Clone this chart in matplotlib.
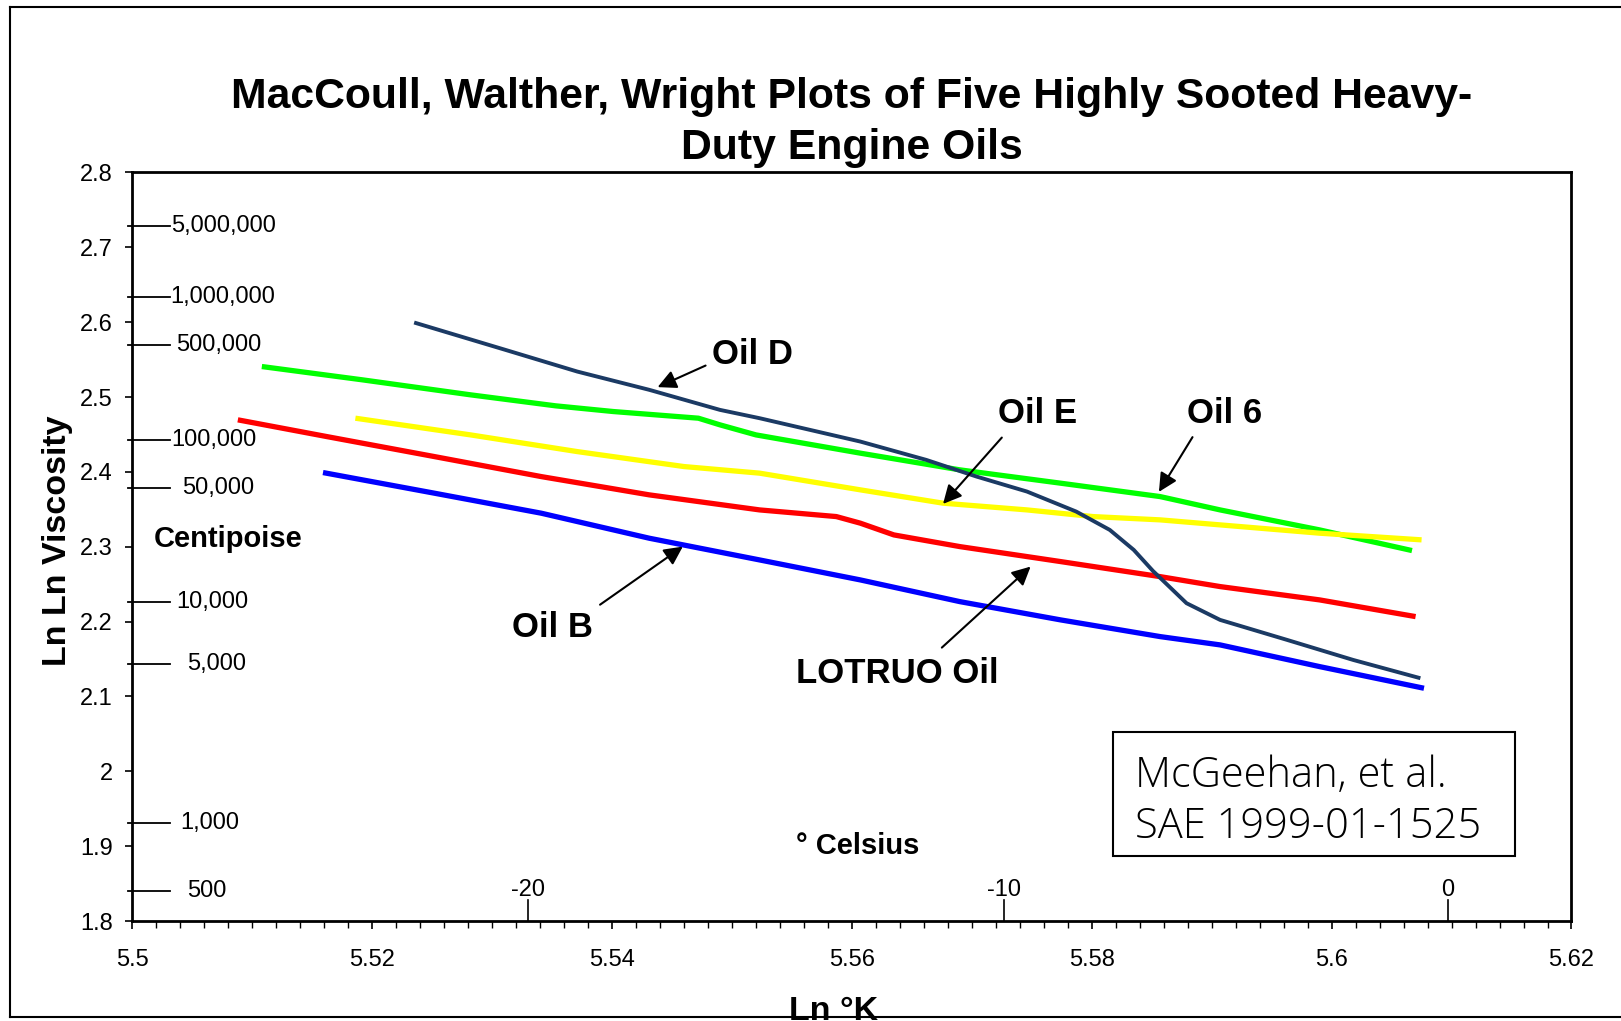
import numpy as np
import matplotlib
matplotlib.use('Agg')
import matplotlib.pyplot as plt
from matplotlib.lines import Line2D
from matplotlib.patches import Rectangle
from matplotlib.ticker import FixedLocator, MultipleLocator
import matplotlib.transforms as mtransforms

plt.rcParams['font.family'] = ['Liberation Sans', 'DejaVu Sans']

# Ln degK (x) and Ln Ln viscosity (y)
oilD_x = [5.5235, 5.5311, 5.5371, 5.5431, 5.5490, 5.5523, 5.5607, 5.5662, 5.5704, 5.5746,
          5.5787, 5.5815, 5.5835, 5.5851, 5.5879, 5.5907, 5.5963, 5.6018, 5.6074]
oilD_y = [2.5995, 2.5630, 2.5340, 2.5096, 2.4828, 2.4717, 2.4405, 2.4160, 2.3937, 2.3737,
          2.3470, 2.3225, 2.2958, 2.2677, 2.2246, 2.2023, 2.1755, 2.1488, 2.1244]

oil6_x = [5.5108, 5.5192, 5.5282, 5.5353, 5.5401, 5.5472, 5.5490, 5.5520, 5.5607, 5.5690,
          5.5774, 5.5857, 5.5907, 5.5990, 5.6067]
oil6_y = [2.5407, 2.5229, 2.5029, 2.4882, 2.4806, 2.4717, 2.4628, 2.4494, 2.4250, 2.4027,
          2.3849, 2.3670, 2.3492, 2.3225, 2.2949]

oilE_x = [5.5186, 5.5282, 5.5371, 5.5460, 5.5523, 5.5607, 5.5676, 5.5746, 5.5801, 5.5857,
          5.5907, 5.5990, 5.6075]
oilE_y = [2.4717, 2.4494, 2.4271, 2.4071, 2.3983, 2.3760, 2.3582, 2.3492, 2.3403, 2.3359,
          2.3292, 2.3181, 2.3092]

lotruo_x = [5.5088, 5.5162, 5.5252, 5.5341, 5.5431, 5.5523, 5.5587, 5.5607, 5.5635, 5.5690,
            5.5774, 5.5857, 5.5907, 5.5990, 5.6070]
lotruo_y = [2.4695, 2.4472, 2.4204, 2.3937, 2.3693, 2.3492, 2.3403, 2.3315, 2.3158, 2.3002,
            2.2802, 2.2601, 2.2468, 2.2290, 2.2067]

oilB_x = [5.5159, 5.5252, 5.5341, 5.5431, 5.5523, 5.5607, 5.5690, 5.5774, 5.5857, 5.5907,
          5.5990, 5.6077]
oilB_y = [2.3991, 2.3715, 2.3448, 2.3114, 2.2824, 2.2557, 2.2267, 2.2023, 2.1800, 2.1689,
          2.1399, 2.1110]

# centipoise scale drawn inside the left axis
cp_labels = ['5,000,000', '1,000,000', '500,000', '100,000', '50,000', '10,000', '5,000', '1,000', '500']
cp_y = [2.7287, 2.6342, 2.5697, 2.4428, 2.3782, 2.2267, 2.1431, 1.9307, 1.8406]
cp_label_x = [0.0267, 0.0267, 0.0302, 0.0274, 0.0343, 0.0304, 0.0384, 0.0331, 0.0384]

# Celsius marks on the bottom axis (position in Ln degK as drawn)
celsius = ['-20', '-10', '0']
celsius_x = [5.5330, 5.5727, 5.6097]

xticks = [5.5, 5.52, 5.54, 5.56, 5.58, 5.6, 5.62]
xlabels = ['5.5', '5.52', '5.54', '5.56', '5.58', '5.6', '5.62']
yticks = [1.8, 1.9, 2.0, 2.1, 2.2, 2.3, 2.4, 2.5, 2.6, 2.7, 2.8]
ylabels = ['1.8', '1.9', '2', '2.1', '2.2', '2.3', '2.4', '2.5', '2.6', '2.7', '2.8']

fig = plt.figure(figsize=(16.21, 10.21), dpi=100)
ax = fig.add_axes([0.08162, 0.09785, 0.88784, 0.7333])

ax.plot(oil6_x, oil6_y, color='#00ff00', lw=3.8, solid_capstyle='butt')
ax.plot(oilE_x, oilE_y, color='#ffff00', lw=3.8, solid_capstyle='butt')
ax.plot(lotruo_x, lotruo_y, color='#ff0000', lw=3.8, solid_capstyle='butt')
ax.plot(oilB_x, oilB_y, color='#0000ff', lw=3.8, solid_capstyle='butt')
ax.plot(oilD_x, oilD_y, color='#1b3a64', lw=2.8, solid_capstyle='butt')

ax.set_xlim(5.5, 5.62)
ax.set_ylim(1.8, 2.8)
ax.xaxis.set_major_locator(FixedLocator(xticks))
ax.set_xticklabels(xlabels)
ax.xaxis.set_minor_locator(MultipleLocator(0.002))
ax.yaxis.set_major_locator(FixedLocator(yticks))
ax.set_yticklabels(ylabels)
ax.tick_params(axis='x', which='major', direction='out', length=6, width=1.2, pad=14, labelsize=17)
ax.tick_params(axis='x', which='minor', direction='out', length=5, width=1.0)
ax.tick_params(axis='y', which='major', direction='out', length=5, width=1.2, pad=9, labelsize=17)
for s in ax.spines.values():
    s.set_linewidth(2)

# centipoise scale
trans = mtransforms.blended_transform_factory(ax.transAxes, ax.transData)
for lab, yv, lx in zip(cp_labels, cp_y, cp_label_x):
    ax.plot([-0.003, 0.0265], [yv, yv], transform=trans, color='black', lw=1.3, clip_on=False)
    ax.text(lx, yv, lab, transform=trans, fontsize=17, va='center', ha='left')
ax.text(5.5018, 2.3097, 'Centipoise', fontsize=21, fontweight='bold', va='center', ha='left')

# Celsius scale
for lab, xc in zip(celsius, celsius_x):
    ax.plot([xc, xc], [1.8, 1.828], color='black', lw=1.2)
    ax.text(xc, 1.8415, lab, fontsize=17, ha='center', va='center')
ax.text(5.5553, 1.9007, '° Celsius', fontsize=21, fontweight='bold', va='center', ha='left')

# oil labels with arrows
arrow = dict(arrowstyle='-|>', color='black', lw=1.5, mutation_scale=28, shrinkA=0, shrinkB=0)
ax.annotate('', xy=(5.5438, 2.5132), xytext=(5.5478, 2.5420), arrowprops=arrow)
ax.text(5.5483, 2.5568, 'Oil D', fontsize=25, fontweight='bold', va='center', ha='left')
ax.annotate('', xy=(5.5676, 2.3572), xytext=(5.5725, 2.4458), arrowprops=arrow)
ax.text(5.5722, 2.4784, 'Oil E', fontsize=25, fontweight='bold', va='center', ha='left')
ax.annotate('', xy=(5.5856, 2.3733), xytext=(5.5884, 2.4464), arrowprops=arrow)
ax.text(5.5879, 2.4784, 'Oil 6', fontsize=25, fontweight='bold', va='center', ha='left')
ax.annotate('', xy=(5.5749, 2.2735), xytext=(5.5675, 2.1653), arrowprops=arrow)
ax.text(5.5553, 2.1301, 'LOTRUO Oil', fontsize=25, fontweight='bold', va='center', ha='left')
ax.annotate('', xy=(5.5459, 2.3002), xytext=(5.5390, 2.2226), arrowprops=arrow)
ax.text(5.5317, 2.1923, 'Oil B', fontsize=25, fontweight='bold', va='center', ha='left')

# source box
ax.add_patch(Rectangle((0.6817, 0.0870), 0.2791, 0.1660, transform=ax.transAxes,
                       fill=False, edgecolor='black', lw=1.5))
ax.text(0.6968, 0.1790, 'McGeehan, et al.', transform=ax.transAxes, fontsize=30,
        family='Open Sans', fontweight='light', va='baseline', ha='left')
ax.text(0.6968, 0.1115, 'SAE 1999-01-1525', transform=ax.transAxes, fontsize=30,
        family='Open Sans', fontweight='light', va='baseline', ha='left')

fig.text(0.5255, 0.8800, 'MacCoull, Walther, Wright Plots of Five Highly Sooted Heavy-\nDuty Engine Oils',
         fontsize=30.8, fontweight='bold', ha='center', va='center', linespacing=1.38)
fig.text(0.0352, 0.4704, 'Ln Ln Viscosity', fontsize=24.5, fontweight='bold', rotation=90,
         ha='center', va='center')
fig.text(0.5145, 0.0005, 'Ln °K', fontsize=24.5, fontweight='bold', ha='center', va='baseline')

# outer frame (right side runs past the image)
for xs, ys in [([0.00617, 0.00617], [0.00392, 0.99314]),
               ([0.00617, 1.0], [0.99314, 0.99314]),
               ([0.00617, 1.0], [0.00392, 0.00392])]:
    fig.add_artist(Line2D(xs, ys, color='black', lw=1.5))

fig.savefig('out.png', dpi=100)
